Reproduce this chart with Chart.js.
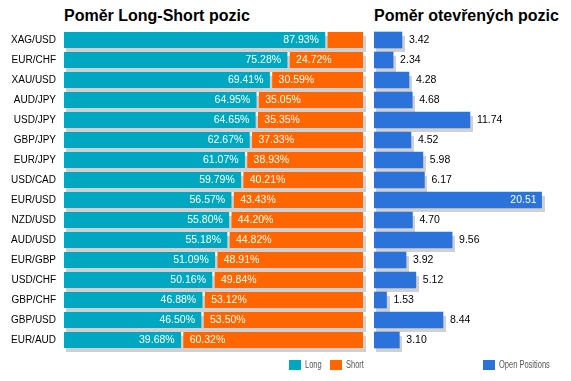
<!DOCTYPE html>
<html><head><meta charset="utf-8">
<script src="https://cdn.jsdelivr.net/npm/chart.js@4"></script>
<style>
body{margin:0;width:571px;height:381px;overflow:hidden;background:#fff;position:relative;font-family:"Liberation Sans",Arial,sans-serif}
canvas{position:absolute;top:0}
#c1{left:0}
#c2{left:370px}
.title{position:absolute;top:8px;font-weight:bold;font-size:16px;line-height:16px;color:#000;white-space:nowrap}
.box{position:absolute;top:360px;width:12px;height:10px}
.lt{position:absolute;top:360px;font-size:10px;line-height:10px;color:#555;transform:scaleX(0.75);transform-origin:0 0;white-space:nowrap}
</style></head>
<body>
<div class="title" style="left:64px">Poměr Long-Short pozic</div>
<div class="title" style="left:374px">Poměr otevřených pozic</div>
<canvas id="c1" width="370" height="381"></canvas>
<canvas id="c2" width="201" height="381"></canvas>
<div class="box" style="left:289px;background:#00A7C0"></div><div class="lt" style="left:305px">Long</div>
<div class="box" style="left:330px;background:#FF6600"></div><div class="lt" style="left:346px">Short</div>
<div class="box" style="left:483px;background:#2B72DA"></div><div class="lt" style="left:499px">Open Positions</div>
<script>
const categories = ["XAG/USD","EUR/CHF","XAU/USD","AUD/JPY","USD/JPY","GBP/JPY","EUR/JPY","USD/CAD","EUR/USD","NZD/USD","AUD/USD","EUR/GBP","USD/CHF","GBP/CHF","GBP/USD","EUR/AUD"];
const longPct  = [87.93,75.28,69.41,64.95,64.65,62.67,61.07,59.79,56.57,55.80,55.18,51.09,50.16,46.88,46.50,39.68];
const shortPct = [12.07,24.72,30.59,35.05,35.35,37.33,38.93,40.21,43.43,44.20,44.82,48.91,49.84,53.12,53.50,60.32];
const openPos  = [3.42,2.34,4.28,4.68,11.74,4.52,5.98,6.17,20.51,4.70,9.56,3.92,5.12,1.53,8.44,3.10];

const FONT = '"Liberation Sans", Arial, sans-serif';
const TEAL = '#00A7C0', ORANGE = '#FF6600', BLUE = '#2B72DA', SHADOW = '#D0D0D0';

const shadowPlugin = {
  id: 'shadow',
  beforeDatasetsDraw(chart) {
    const ctx = chart.ctx;
    ctx.save();
    ctx.fillStyle = SHADOW;
    chart.data.datasets.forEach((ds, i) => {
      chart.getDatasetMeta(i).data.forEach(el => {
        const p = el.getProps(['x','y','base','height'], true);
        const l = Math.min(p.x, p.base), r = Math.max(p.x, p.base);
        ctx.fillRect(Math.round(l + 2), Math.round(p.y - p.height / 2 + 4), Math.round(r - l + 1), p.height);
      });
    });
    ctx.restore();
  }
};

const pctLabels = {
  id: 'pctLabels',
  afterDatasetsDraw(chart) {
    const ctx = chart.ctx;
    ctx.save();
    ctx.font = '10.5px ' + FONT;
    ctx.fillStyle = '#fff';
    ctx.textBaseline = 'middle';
    const mL = chart.getDatasetMeta(0), mS = chart.getDatasetMeta(1);
    mL.data.forEach((el, i) => {
      const p = el.getProps(['x','y','base'], true);
      const t = longPct[i].toFixed(2) + '%';
      if (ctx.measureText(t).width + 12 <= p.x - p.base) {
        ctx.textAlign = 'right';
        ctx.fillText(t, p.x - 8, p.y + 0.5);
      }
    });
    mS.data.forEach((el, i) => {
      const p = el.getProps(['x','y','base'], true);
      const t = shortPct[i].toFixed(2) + '%';
      if (ctx.measureText(t).width + 12 <= p.x - p.base) {
        ctx.textAlign = 'left';
        ctx.fillText(t, p.base + 7, p.y + 0.5);
      }
    });
    ctx.restore();
  }
};

const valLabels = {
  id: 'valLabels',
  afterDatasetsDraw(chart) {
    const ctx = chart.ctx;
    ctx.save();
    ctx.font = '10.5px ' + FONT;
    ctx.textBaseline = 'middle';
    chart.getDatasetMeta(0).data.forEach((el, i) => {
      const p = el.getProps(['x','y'], true);
      const t = openPos[i].toFixed(2);
      const w = ctx.measureText(t).width;
      if (p.x + 7 + w > chart.width - 2) {
        ctx.fillStyle = '#fff';
        ctx.textAlign = 'right';
        ctx.fillText(t, p.x - 5, p.y + 0.5);
      } else {
        ctx.fillStyle = '#000';
        ctx.textAlign = 'left';
        ctx.fillText(t, p.x + 7, p.y + 0.5);
      }
    });
    ctx.restore();
  }
};

new Chart(document.getElementById('c1'), {
  type: 'bar',
  data: {
    labels: categories,
    datasets: [
      { label: 'Long', data: longPct, backgroundColor: TEAL, borderColor: 'rgba(0,0,0,0)',
        borderWidth: {top:0,right:2,bottom:0,left:0}, borderSkipped: false, barThickness: 16 },
      { label: 'Short', data: shortPct, backgroundColor: ORANGE, borderColor: 'rgba(0,0,0,0)',
        borderWidth: {top:0,right:0,bottom:0,left:1}, borderSkipped: false, barThickness: 16 }
    ]
  },
  options: {
    indexAxis: 'y', responsive: false, animation: false, devicePixelRatio: 1,
    layout: { padding: { left: 0, right: 7, top: 30, bottom: 31 } },
    plugins: { legend: { display: false }, title: { display: false }, tooltip: { enabled: false } },
    scales: {
      x: { stacked: true, min: 0, max: 100, display: false },
      y: { stacked: true, grid: { display: false, drawTicks: false }, border: { display: false },
           ticks: { padding: 8, color: '#000', font: { family: FONT, size: 10 } },
           afterFit(s) { s.width = 64; } }
    }
  },
  plugins: [shadowPlugin, pctLabels]
});

new Chart(document.getElementById('c2'), {
  type: 'bar',
  data: {
    labels: categories,
    datasets: [
      { label: 'Open Positions', data: openPos, backgroundColor: BLUE, borderWidth: 0, barThickness: 16 }
    ]
  },
  options: {
    indexAxis: 'y', responsive: false, animation: false, devicePixelRatio: 1,
    layout: { padding: { left: 4, right: 5, top: 30, bottom: 31 } },
    plugins: { legend: { display: false }, title: { display: false }, tooltip: { enabled: false } },
    scales: {
      x: { min: 0, max: 23.5, display: false },
      y: { display: false }
    }
  },
  plugins: [shadowPlugin, valLabels]
});
</script>
</body></html>
